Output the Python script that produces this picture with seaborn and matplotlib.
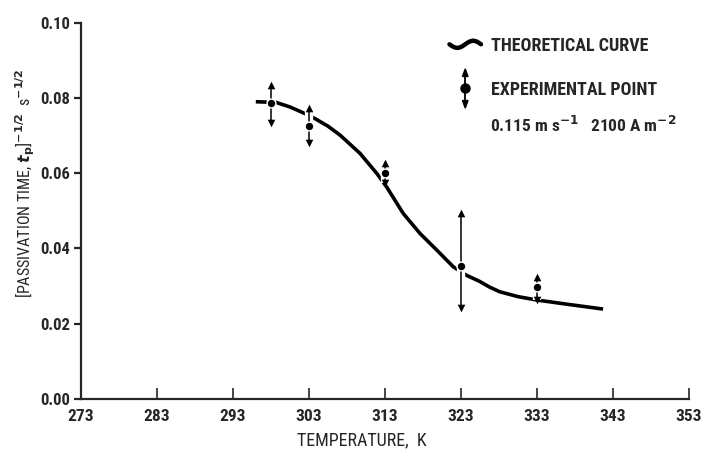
import matplotlib
matplotlib.use("Agg")
import matplotlib.pyplot as plt
import matplotlib.patheffects as pe
from matplotlib.lines import Line2D
from matplotlib.patches import Polygon
from matplotlib.legend_handler import HandlerBase
from matplotlib import font_manager
import seaborn as sns
import pandas as pd
import numpy as np

# ---- data ----
curve_T = [296.0, 298.7, 300.5, 302.3, 303.8, 305.5, 307.1, 309.7, 311.9, 313.2, 315.4, 317.6,
           319.8, 322.0, 323.7, 325.5, 326.8, 328.1, 330.5, 333.0, 336.9, 341.7]
curve_y = [0.0790, 0.0788, 0.0776, 0.0760, 0.0745, 0.0725, 0.0701, 0.0653, 0.0600, 0.0564,
           0.0493, 0.0440, 0.0396, 0.0351, 0.0329, 0.0312, 0.0297, 0.0285, 0.0272, 0.0263,
           0.0252, 0.0239]

exp_T = [298, 303, 313, 323, 333]
exp_y = [0.0787, 0.0726, 0.0600, 0.0354, 0.0297]
exp_hi = [0.0834, 0.0773, 0.0627, 0.0494, 0.0325]
exp_lo = [0.0733, 0.0680, 0.0574, 0.0242, 0.0263]

x_ticks = [273, 283, 293, 303, 313, 323, 333, 343, 353]
y_ticks = [0.00, 0.02, 0.04, 0.06, 0.08, 0.10]

# ---- style ----
sns.set_style("ticks")
avail = {f.name for f in font_manager.fontManager.ttflist}
fams = [f for f in ["Roboto Condensed", "DejaVu Sans Condensed", "Liberation Sans Narrow"] if f in avail]
plt.rcParams["font.family"] = fams + ["DejaVu Sans"]
plt.rcParams["font.weight"] = "bold"
plt.rcParams["mathtext.fontset"] = "dejavusans"


class TildeHandler(HandlerBase):
    def create_artists(self, legend, orig, xd, yd, w, h, fontsize, trans):
        t = np.linspace(0, 1, 40)
        x = t * w
        y = h / 2 - 0.28 * h * np.sin(2 * np.pi * t)
        ln = Line2D(x, y, color="black", lw=3.2, solid_capstyle="round")
        ln.set_transform(trans)
        return [ln]


class ArrowPointHandler(HandlerBase):
    def create_artists(self, legend, orig, xd, yd, w, h, fontsize, trans):
        cx = w / 2
        top, bot = h / 2 + 1.55 * h, h / 2 - 1.55 * h
        hw, hh = 0.22 * h, 0.6 * h
        ln = Line2D([cx, cx], [bot + hh, top - hh], color="black", lw=1.3)
        up = Polygon([[cx - hw, top - hh], [cx + hw, top - hh], [cx, top]], closed=True,
                     color="black")
        dn = Polygon([[cx - hw, bot + hh], [cx + hw, bot + hh], [cx, bot]], closed=True,
                     color="black")
        dot = Line2D([cx], [h / 2], ls="none", marker="o", ms=6.5, color="black")
        arts = [ln, up, dn, dot]
        for a in arts:
            a.set_transform(trans)
        return arts


fig = plt.figure(figsize=(7.01, 4.51), dpi=100)
ax = fig.add_axes([81/701, 52/451, 608/701, 376.3/451])

curve_df = pd.DataFrame({"T": curve_T, "y": curve_y})
exp_df = pd.DataFrame({"T": exp_T, "y": exp_y, "hi": exp_hi, "lo": exp_lo})

sns.lineplot(data=curve_df, x="T", y="y", color="black", lw=2.6, ax=ax,
             solid_capstyle="butt", solid_joinstyle="round", zorder=2)

halo = [pe.Stroke(linewidth=6, foreground="white"), pe.Normal()]
ax.vlines(exp_df["T"], exp_df["lo"], exp_df["hi"], color="black", lw=1.1,
          zorder=3, path_effects=halo)
sns.scatterplot(data=exp_df, x="T", y="hi", marker="^", s=30, color="black",
                edgecolor="black", linewidth=0, ax=ax, zorder=4)
sns.scatterplot(data=exp_df, x="T", y="lo", marker="v", s=30, color="black",
                edgecolor="black", linewidth=0, ax=ax, zorder=4)
sns.scatterplot(data=exp_df, x="T", y="y", marker="o", s=40, color="black",
                edgecolor="white", linewidth=1.0, ax=ax, zorder=5)

ax.set_xlim(273, 353)
ax.set_ylim(0, 0.10)
ax.set_xticks(x_ticks)
ax.set_xticklabels([str(t) for t in x_ticks])
ax.set_yticks(y_ticks)
ax.set_yticklabels([f"{v:.2f}" for v in y_ticks])

sns.despine(ax=ax)
for s in ["left", "bottom"]:
    ax.spines[s].set_linewidth(1.6)
ax.tick_params(axis="x", direction="in", length=8, width=1.2, labelsize=12.5, pad=7)
ax.tick_params(axis="y", direction="out", length=5, width=1.6, labelsize=12, pad=3)

ax.set_xlabel("TEMPERATURE,  K", fontsize=13, fontweight="normal")
ax.xaxis.set_label_coords(0.462, -0.085)
ax.set_ylabel(r"[PASSIVATION TIME, $t_{\rm p}$]$^{-1/2}$  s$^{-1/2}$", fontsize=11.5,
              fontweight="normal")
ax.yaxis.set_label_coords(-0.072, 0.574)

h_curve = Line2D([], [])
h_exp = Line2D([], [], marker="o")
ax.legend([h_curve, h_exp], ["THEORETICAL CURVE", "EXPERIMENTAL POINT"],
          handler_map={h_curve: TildeHandler(), h_exp: ArrowPointHandler()},
          loc="upper left", bbox_to_anchor=(0.606, 0.963), frameon=False,
          borderaxespad=0, borderpad=0, handlelength=1.75, handletextpad=0.55,
          labelspacing=1.45, prop={"size": 13, "weight": "bold"})
ax.text(0.673, 0.728, r"0.115 m s$^{-1}$   2100 A m$^{-2}$", transform=ax.transAxes,
        fontsize=12.5, fontweight="bold", va="center", ha="left")

fig.savefig("out.png", dpi=100)
